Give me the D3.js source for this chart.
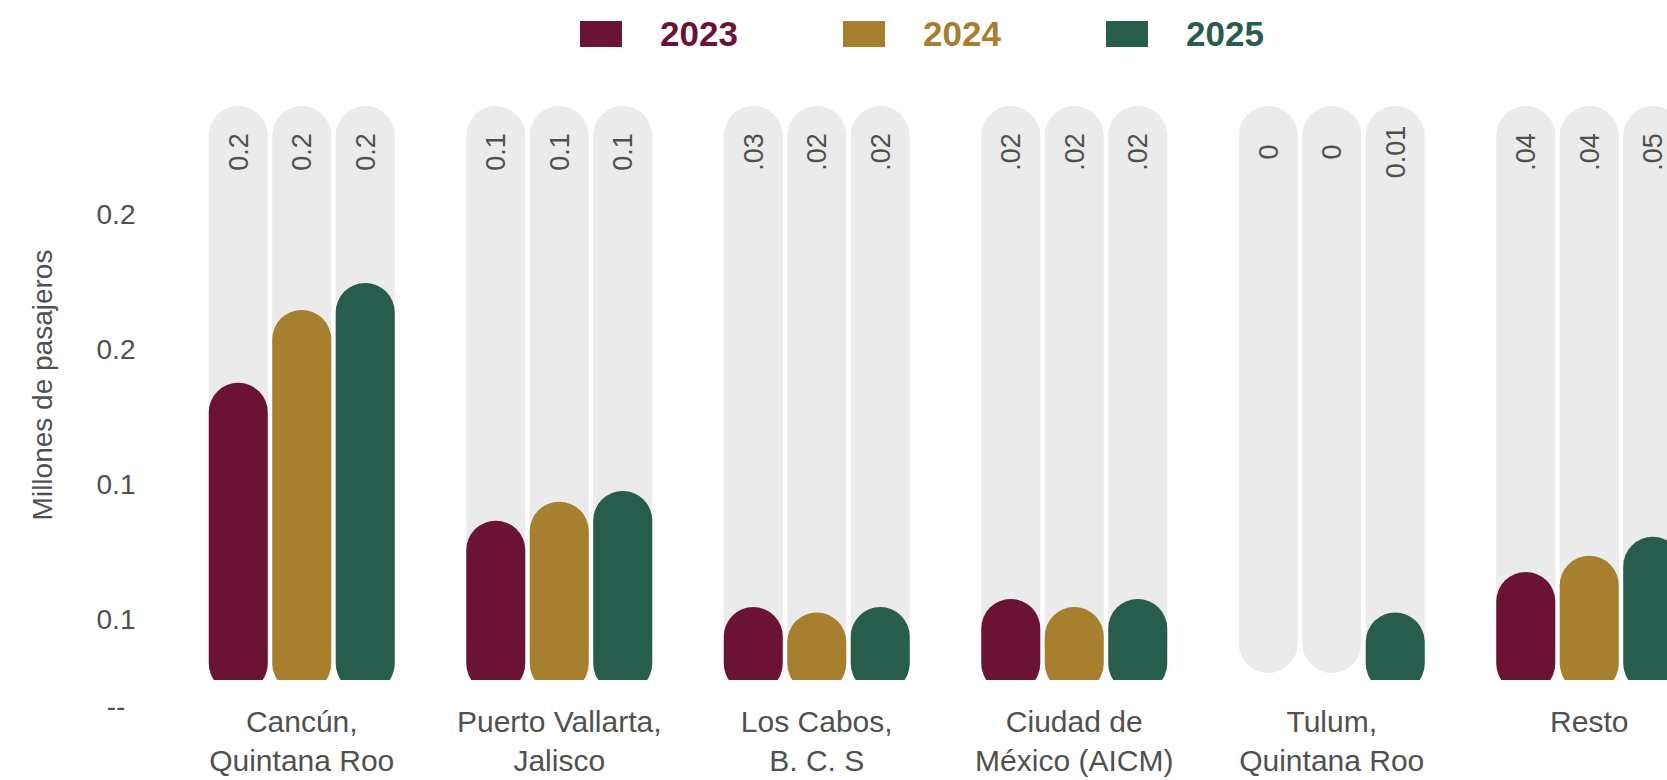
<!DOCTYPE html>
<html>
<head>
<meta charset="utf-8">
<script src="https://cdn.jsdelivr.net/npm/d3@7"></script>
<style>
  body { margin: 0; background: #fff; }
  text { font-family: "Liberation Sans", Arial, Helvetica, sans-serif; }
</style>
</head>
<body>
<div id="chart"></div>
<script>
// data (millones de pasajeros)
var categories = ["Cancún, Quintana Roo", "Puerto Vallarta, Jalisco", "Los Cabos, B. C. S",
                  "Ciudad de México (AICM)", "Tulum, Quintana Roo", "Resto"];
var categoryLines = [["Cancún,", "Quintana Roo"], ["Puerto Vallarta,", "Jalisco"], ["Los Cabos,", "B. C. S"],
                     ["Ciudad de", "México (AICM)"], ["Tulum,", "Quintana Roo"], ["Resto"]];
var years = ["2023", "2024", "2025"];
var values2023 = [0.110, 0.059, 0.027, 0.030, 0, 0.040];
var values2024 = [0.137, 0.066, 0.025, 0.027, 0, 0.046];
var values2025 = [0.147, 0.070, 0.027, 0.030, 0.025, 0.053];
var labels2023 = ["0.2", "0.1", ".03", ".02", "0", ".04"];
var labels2024 = ["0.2", "0.1", ".02", ".02", "0", ".04"];
var labels2025 = ["0.2", "0.1", ".02", ".02", "0.01", ".05"];
var yTickValues = [-0.01, 0.0225, 0.0725, 0.1225, 0.1725];
var yTickLabels = ["--", "0.1", "0.1", "0.2", "0.2"];
var yMax = 0.2125;

var colors = ["#6a1335", "#a67f2f", "#285c4d"];
var textColor = "#505050";

var width = 1667, height = 780;
var baseY = 680;

var series = [values2023, values2024, values2025];
var seriesLabels = [labels2023, labels2024, labels2025];

var svg = d3.select("#chart").append("svg")
    .attr("width", width)
    .attr("height", height);

svg.append("clipPath").attr("id", "plotClip")
  .append("rect")
    .attr("x", 0).attr("y", 0)
    .attr("width", width).attr("height", baseY);

var x = d3.scaleBand()
    .domain(categories)
    .range([173, 1718]);

var xi = d3.scaleBand()
    .domain(years)
    .range([-93, 93])
    .paddingInner(0.07);

var y = d3.scaleLinear()
    .domain([0, yMax])
    .range([baseY, 106]);

var bw = xi.bandwidth();
var r = bw / 2;

// flatten into rows
var rows = [];
categories.forEach(function(c, ci) {
  years.forEach(function(yr, si) {
    rows.push({cat: c, year: yr, si: si, value: series[si][ci], label: seriesLabels[si][ci]});
  });
});

function barX(d) { return x(d.cat) + x.bandwidth() / 2 + xi(d.year); }

// grey tracks
svg.append("g").selectAll("rect")
  .data(rows)
  .enter().append("rect")
    .attr("x", barX)
    .attr("y", y(yMax))
    .attr("width", bw)
    .attr("height", y(0) - 7 - y(yMax))
    .attr("rx", r).attr("ry", r)
    .attr("fill", "#ebebeb");

// coloured bars
svg.append("g").attr("clip-path", "url(#plotClip)")
  .selectAll("rect")
  .data(rows.filter(function(d) { return d.value > 0; }))
  .enter().append("rect")
    .attr("x", barX)
    .attr("y", function(d) { return y(d.value); })
    .attr("width", bw)
    .attr("height", function(d) { return y(0) + 13 - y(d.value); })
    .attr("rx", r).attr("ry", r)
    .attr("fill", function(d) { return colors[d.si]; });

// value labels on the tracks
svg.append("g").selectAll("text")
  .data(rows)
  .enter().append("text")
    .attr("transform", function(d) { return "translate(" + (barX(d) + r) + ",152) rotate(-90)"; })
    .attr("text-anchor", "middle")
    .attr("dy", "0.35em")
    .style("font-size", "27px")
    .attr("fill", textColor)
    .text(function(d) { return d.label; });

// y axis
var yAxis = svg.append("g")
    .attr("transform", "translate(116,0)")
    .call(d3.axisLeft(y)
      .tickValues(yTickValues)
      .tickFormat(function(d, i) { return yTickLabels[i]; })
      .tickSize(0)
      .tickPadding(0));
yAxis.select(".domain").remove();
yAxis.selectAll("text")
    .attr("text-anchor", "middle")
    .attr("fill", textColor)
    .style("font-size", "28px")
    .style("font-family", '"Liberation Sans", Arial, sans-serif');

svg.append("text")
    .attr("transform", "translate(42,385) rotate(-90)")
    .attr("text-anchor", "middle")
    .attr("dy", "0.35em")
    .style("font-size", "28px")
    .attr("fill", textColor)
    .text("Millones de pasajeros");

// category labels
var catText = svg.append("g").selectAll("text")
  .data(categories)
  .enter().append("text")
    .attr("x", function(d) { return x(d) + x.bandwidth() / 2; })
    .attr("y", 732)
    .attr("text-anchor", "middle")
    .style("font-size", "30px")
    .attr("fill", textColor);

catText.selectAll("tspan")
  .data(function(d, i) { return categoryLines[i]; })
  .enter().append("tspan")
    .attr("x", function() { return d3.select(this.parentNode).attr("x"); })
    .attr("dy", function(d, i) { return i == 0 ? 0 : 39; })
    .text(function(d) { return d; });

// legend
var lx = d3.scalePoint().domain(years).range([580, 1106]);
var legend = svg.append("g").selectAll("g")
  .data(years)
  .enter().append("g")
    .attr("transform", function(d) { return "translate(" + lx(d) + ",0)"; });

legend.append("rect")
    .attr("x", 0).attr("y", 21)
    .attr("width", 42).attr("height", 26)
    .attr("fill", function(d, i) { return colors[i]; });

legend.append("text")
    .attr("x", 80).attr("y", 34)
    .attr("dy", "0.35em")
    .style("font-size", "35px")
    .style("font-weight", "bold")
    .attr("fill", function(d, i) { return colors[i]; })
    .text(function(d) { return d; });
</script>
</body>
</html>
